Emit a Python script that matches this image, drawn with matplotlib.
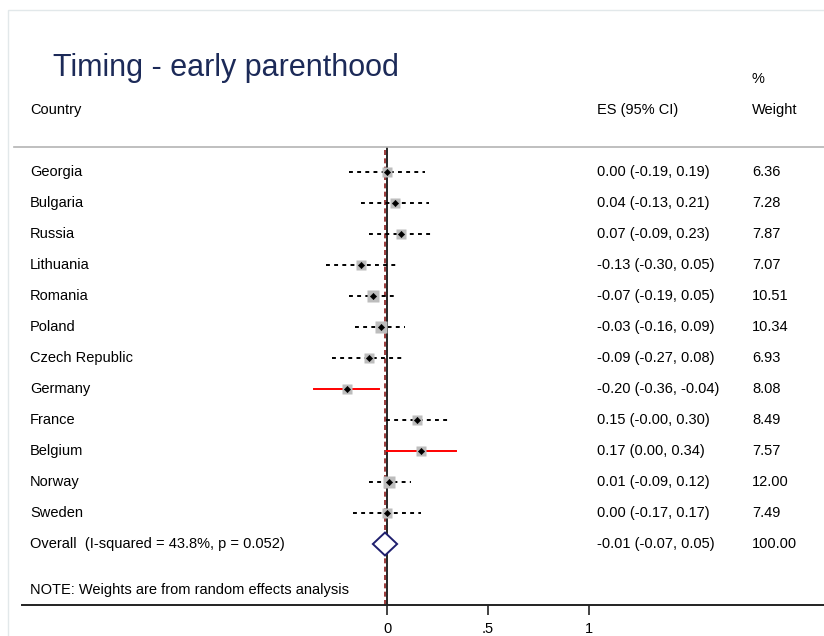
import matplotlib.pyplot as plt
import matplotlib.transforms as mtransforms
from matplotlib.patches import Rectangle

plt.rcParams['font.family'] = ['Liberation Sans', 'DejaVu Sans']

countries = ["Georgia", "Bulgaria", "Russia", "Lithuania", "Romania", "Poland",
             "Czech Republic", "Germany", "France", "Belgium", "Norway", "Sweden"]
es = [0.00, 0.04, 0.07, -0.13, -0.07, -0.03, -0.09, -0.20, 0.15, 0.17, 0.01, 0.00]
lo = [-0.19, -0.13, -0.09, -0.30, -0.19, -0.16, -0.27, -0.36, -0.004, 0.001, -0.09, -0.17]
hi = [0.19, 0.21, 0.23, 0.05, 0.05, 0.09, 0.08, -0.04, 0.30, 0.34, 0.12, 0.17]
weights = [6.36, 7.28, 7.87, 7.07, 10.51, 10.34, 6.93, 8.08, 8.49, 7.57, 12.00, 7.49]

overall_es, overall_lo, overall_hi = -0.01, -0.07, 0.05
overall_weight = 100.00
overall_label = "Overall  (I-squared = 43.8%, p = 0.052)"
note = "NOTE: Weights are from random effects analysis"
xticks = [0, 0.5, 1]
xticklabels = ["0", ".5", "1"]

W, H = 824, 636
fig = plt.figure(figsize=(W / 100, H / 100), dpi=100)

# plot area in pixel terms
ax_left, ax_right, ax_top, ax_bottom = 22, 824, 147, 605
ax = fig.add_axes([ax_left / W, 1 - ax_bottom / H,
                   (ax_right - ax_left) / W, (ax_bottom - ax_top) / H])
# x: 0 at px 387, 1 unit = 202 px ; rows: row 0 at px 172, 31 px per row
ax.set_xlim((ax_left - 387) / 202, (ax_right - 387) / 202)
ax.set_ylim((ax_bottom - 172) / 31, (ax_top - 172) / 31)
for s in ["top", "right", "left"]:
    ax.spines[s].set_visible(False)
ax.spines["bottom"].set_linewidth(1.4)
ax.spines["bottom"].set_color("#222222")
ax.set_yticks([])
ax.set_xticks(xticks)
ax.set_xticklabels(xticklabels, fontsize=10.5)
ax.tick_params(axis="x", length=7, width=1.2, color="#222222", pad=5)

n = len(countries)
rows = list(range(n))

# null line and overall line
ax.axvline(0, color="black", lw=1.2, zorder=1)
ax.axvline(overall_es, color="#8b1a1a", lw=1.2, ls=(0, (3, 2)), zorder=2)

for i in rows:
    sig = lo[i] > 0 or hi[i] < 0
    if sig:
        ax.plot([lo[i], hi[i]], [i, i], color="red", lw=1.4, zorder=3)
    else:
        ax.plot([lo[i], hi[i]], [i, i], color="black", lw=1.4,
                ls=(0, (2, 2.2)), zorder=3)
    ax.plot(es[i], i, marker="s", color="#bdbdbd", mec="none",
            markersize=2.7 * weights[i] ** 0.5, zorder=4)
    ax.plot(es[i], i, marker="D", color="black", mec="black", mew=0.4,
            markersize=3.2, zorder=5)

# overall diamond
oy = n
dh = 0.37
ax.fill([overall_lo, overall_es, overall_hi, overall_es, overall_lo],
        [oy, oy - dh, oy, oy + dh, oy], facecolor="white",
        edgecolor="#1f1f6e", lw=1.4, zorder=6)

# text columns
tr = mtransforms.blended_transform_factory(fig.transFigure, ax.transData)
fs = 10.5
for i in rows:
    ax.text(30 / W, i, countries[i], transform=tr, fontsize=fs, va="center")
    ax.text(597 / W, i, "%.2f (%.2f, %.2f)" % (es[i], lo[i], hi[i]),
            transform=tr, fontsize=fs, va="center")
    ax.text(752 / W, i, "%.2f" % weights[i], transform=tr, fontsize=fs, va="center")
ax.text(30 / W, oy, overall_label, transform=tr, fontsize=fs, va="center")
ax.text(597 / W, oy, "%.2f (%.2f, %.2f)" % (overall_es, overall_lo, overall_hi),
        transform=tr, fontsize=fs, va="center")
ax.text(752 / W, oy, "%.2f" % overall_weight, transform=tr, fontsize=fs, va="center")
ax.text(30 / W, (590 - 172) / 31, note, transform=tr, fontsize=fs, va="center")

# header
fig.text(53 / W, 1 - 68 / H, "Timing - early parenthood", fontsize=22,
         color="#1c2a58", va="center")
fig.text(30 / W, 1 - 110 / H, "Country", fontsize=fs, va="center")
fig.text(597 / W, 1 - 110 / H, "ES (95% CI)", fontsize=fs, va="center")
fig.text(752 / W, 1 - 79 / H, "%", fontsize=fs, va="center")
fig.text(752 / W, 1 - 110 / H, "Weight", fontsize=fs, va="center")

# separator under header and faint outer frame
fig.add_artist(plt.Line2D([14 / W, 1], [1 - 147 / H, 1 - 147 / H],
                          transform=fig.transFigure, color="#b4b4b4", lw=1.2))
fig.add_artist(Rectangle((8 / W, -0.01), 1.0, 1 - 10 / H + 0.01,
                         transform=fig.transFigure, fill=False,
                         edgecolor="#e2e8ea", lw=1))

fig.savefig("out.png", dpi=100)
